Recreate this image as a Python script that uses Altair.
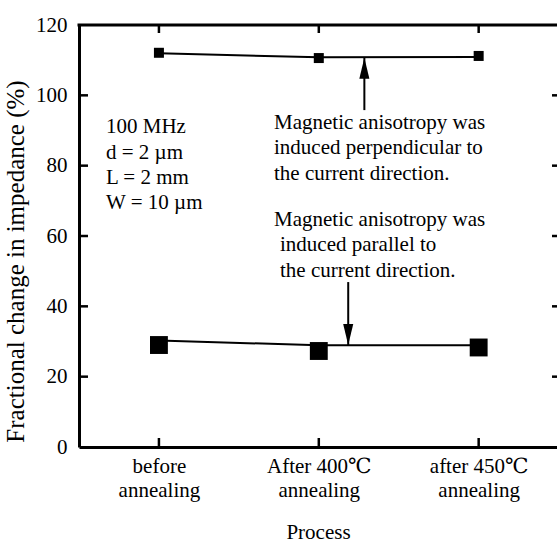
import json
import altair as alt
import pandas as pd

# ---- data ----
categories = [["before", "annealing"], ["After 400℃", "annealing"], ["after 450℃", "annealing"]]
cat_index = [0, 1, 2]
perp_line = [112.0, 110.8, 110.9]      # line through perpendicular-anisotropy series
perp_markers = [112.1, 110.6, 111.2]
par_line = [30.3, 28.9, 28.9]          # line through parallel-anisotropy series
par_markers = [29.0, 27.3, 28.3]
y_ticks = [0, 20, 40, 60, 80, 100, 120]
inner_y_ticks = [20, 40, 60, 80, 100]

params_text = ["100 MHz", "d = 2 µm", "L = 2 mm", "W = 10 µm"]
note_perp = ["Magnetic anisotropy was", "induced perpendicular to", "the current direction."]
note_par_head = ["Magnetic anisotropy was"]
note_par_rest = ["induced parallel to", "the current direction."]

arrow_x = [1.285, 1.184]
arrow_from = [95.8, 46.9]
arrow_to = [110.7, 29.0]
arrow_dir = ["up", "down"]

x_title = "Process"
y_title = "Fractional change in impedance (%)"

XMIN, XMAX = -0.5, 2.49
FONT = "Times New Roman, Liberation Serif, DejaVu Serif, serif"
FS = 21
LH = 25.3

xs = alt.Scale(domain=[XMIN, XMAX], nice=False, zero=False)
ys = alt.Scale(domain=[0, 120], nice=False, zero=False)

lines_df = pd.DataFrame({
    "x": cat_index * 2,
    "y": perp_line + par_line,
    "s": ["perp"] * 3 + ["par"] * 3,
})
perp_df = pd.DataFrame({"x": cat_index, "y": perp_markers})
par_df = pd.DataFrame({"x": cat_index, "y": par_markers})
ytick_df = pd.DataFrame({"y": inner_y_ticks})
xtick_df = pd.DataFrame({"x": cat_index})
arrow_df = pd.DataFrame({"x": arrow_x, "y1": arrow_from, "y2": arrow_to, "d": arrow_dir})

x_axis = alt.Axis(
    values=cat_index, labelExpr=json.dumps(categories, ensure_ascii=False) + "[datum.value]",
    domain=True, domainColor="black", domainWidth=3, ticks=False, grid=False,
    labelFont=FONT, labelFontSize=FS, labelColor="black", labelPadding=8,
    labelBaseline="top", labelLineHeight=24.5, labelAlign="center",
    title=x_title, titleFont=FONT, titleFontSize=FS, titleFontWeight="normal",
    titleColor="black", titleX=239, titleY=91, titleBaseline="alphabetic", titleAlign="center",
)
y_axis = alt.Axis(
    values=y_ticks, domain=True, domainColor="black", domainWidth=3, ticks=False, grid=False,
    labelFont=FONT, labelFontSize=FS, labelColor="black", labelPadding=12,
    title=y_title, titleFont=FONT, titleFontSize=25, titleFontWeight="normal",
    titleColor="black", titleAngle=270, titleX=-56, titleY=236,
    titleBaseline="alphabetic", titleAlign="center",
)

base_lines = alt.Chart(lines_df).mark_line(color="black", strokeWidth=2).encode(
    x=alt.X("x:Q", scale=xs, axis=x_axis),
    y=alt.Y("y:Q", scale=ys, axis=y_axis),
    detail="s:N",
)

perp_pts = alt.Chart(perp_df).mark_point(shape="square", filled=True, color="black", opacity=1, size=100).encode(
    x=alt.X("x:Q", scale=xs), y=alt.Y("y:Q", scale=ys))
par_pts = alt.Chart(par_df).mark_point(shape="square", filled=True, color="black", opacity=1, size=320).encode(
    x=alt.X("x:Q", scale=xs), y=alt.Y("y:Q", scale=ys))

# frame top border
top_border = alt.Chart().mark_rule(color="black", strokeWidth=3, strokeCap="square").encode(
    x=alt.datum(XMIN, scale=xs), x2=alt.datum(XMAX), y=alt.datum(120, scale=ys))

# inward ticks
left_ticks = alt.Chart(ytick_df).mark_rule(color="black", strokeWidth=2.5, x2Offset=9).encode(
    x=alt.datum(XMIN), x2=alt.datum(XMIN), y=alt.Y("y:Q", scale=ys))
right_ticks = alt.Chart(ytick_df).mark_rule(color="black", strokeWidth=2.5, xOffset=-5).encode(
    x=alt.datum(XMAX), x2=alt.datum(XMAX), y=alt.Y("y:Q", scale=ys))
top_ticks = alt.Chart(xtick_df).mark_rule(color="black", strokeWidth=2.5, y2Offset=8).encode(
    x=alt.X("x:Q", scale=xs), y=alt.datum(120), y2=alt.datum(120))
bottom_ticks = alt.Chart(xtick_df).mark_rule(color="black", strokeWidth=2.5, y2Offset=-9).encode(
    x=alt.X("x:Q", scale=xs), y=alt.datum(0), y2=alt.datum(0))

# arrows
shafts = alt.Chart(arrow_df).mark_rule(color="black", strokeWidth=2).encode(
    x=alt.X("x:Q", scale=xs), y=alt.Y("y1:Q", scale=ys), y2="y2:Q")
head_up = alt.Chart(arrow_df[arrow_df.d == "up"]).mark_point(
    shape="M0,-1L0.48,1L-0.48,1Z", filled=True, color="black", opacity=1, size=441, yOffset=10.5).encode(
    x=alt.X("x:Q", scale=xs), y=alt.Y("y2:Q", scale=ys))
head_down = alt.Chart(arrow_df[arrow_df.d == "down"]).mark_point(
    shape="M0,1L0.48,-1L-0.48,-1Z", filled=True, color="black", opacity=1, size=441, yOffset=-10.5).encode(
    x=alt.X("x:Q", scale=xs), y=alt.Y("y2:Q", scale=ys))

def block(lines, xv, yv, dx=0, dy=0):
    return alt.Chart().mark_text(
        text=lines, font=FONT, fontSize=FS, lineHeight=LH, align="left",
        baseline="alphabetic", color="black", dx=dx, dy=dy).encode(
        x=alt.datum(xv, scale=xs), y=alt.datum(yv, scale=ys))

t_params = block(params_text, -0.331, 89.2)
t_perp = block(note_perp, 0.72, 90.4)
t_par1 = block(note_par_head, 0.72, 62.8)
t_par2 = block(note_par_rest, 0.72, 62.8, dx=6, dy=LH)

chart = alt.layer(
    base_lines, perp_pts, par_pts, top_border,
    left_ticks, right_ticks, top_ticks, bottom_ticks,
    shafts, head_up, head_down, t_params, t_perp, t_par1, t_par2,
).properties(
    width=478, height=422,
    autosize=alt.AutoSizeParams(type="none"),
    padding={"left": 79, "top": 25, "right": 0, "bottom": 96},
    background="white",
).configure_view(stroke=None)

chart.save("out.html", embed_options={"renderer": "svg", "actions": False})
